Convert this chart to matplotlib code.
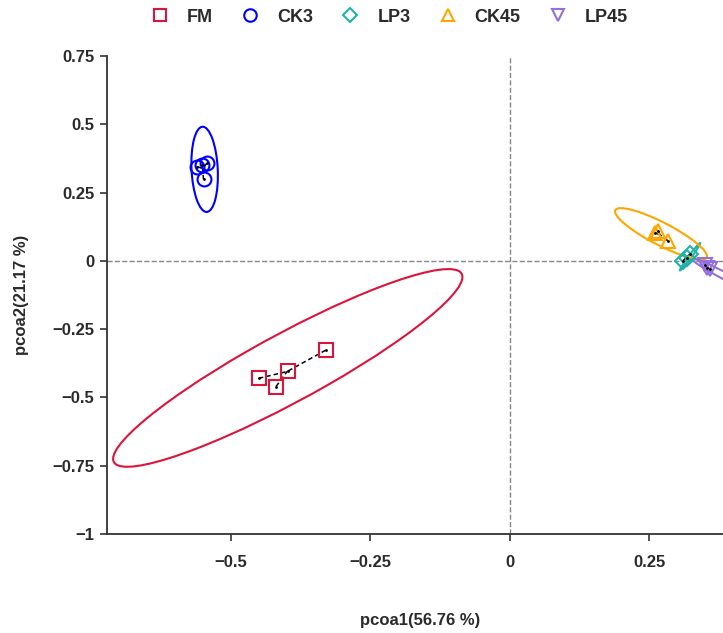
import matplotlib
matplotlib.use('Agg')
import matplotlib.pyplot as plt
from matplotlib.patches import Ellipse
from matplotlib.lines import Line2D
import numpy as np

# sample coordinates on the first two axes
groups = ['FM', 'CK3', 'LP3', 'CK45', 'LP45']
pc1 = {
    'FM':   [-0.450, -0.419, -0.398, -0.330],
    'CK3':  [-0.560, -0.551, -0.543, -0.549],
    'LP3':  [0.310, 0.317, 0.323],
    'CK45': [0.260, 0.265, 0.283],
    'LP45': [0.349, 0.353, 0.358],
}
pc2 = {
    'FM':   [-0.430, -0.460, -0.404, -0.327],
    'CK3':  [0.345, 0.352, 0.357, 0.298],
    'LP3':  [0.000, 0.011, 0.026],
    'CK45': [0.103, 0.110, 0.074],
    'LP45': [-0.015, -0.026, -0.029],
}
# confidence ellipses: centre x, centre y, width, height, angle (data units)
ell = {
    'FM':   (-0.398, -0.392, 0.938, 0.190, 49.5),
    'CK3':  (-0.547, 0.335, 0.312, 0.047, 91.3),
    'LP3':  (0.323, 0.015, 0.106, 0.006, 70.2),
    'CK45': (0.271, 0.099, 0.242, 0.063, -49.3),
    'LP45': (0.389, -0.059, 0.180, 0.020, -47.0),
}
xticks = [-0.5, -0.25, 0, 0.25]
xtlab = ['\u22120.5', '\u22120.25', '0', '0.25']
yticks = [0.75, 0.5, 0.25, 0, -0.25, -0.5, -0.75, -1]
ytlab = ['0.75', '0.5', '0.25', '0', '\u22120.25', '\u22120.5', '\u22120.75', '\u22121']

colors = {'FM': '#DC143C', 'CK3': '#0000FF', 'LP3': '#20B2AA',
          'CK45': '#FFA500', 'LP45': '#9370DB'}
marks = {'FM': 's', 'CK3': 'o', 'LP3': 'D', 'CK45': '^', 'LP45': 'v'}
msize = {'FM': 10, 'CK3': 10, 'LP3': 8, 'CK45': 10, 'LP45': 10}

plt.rcParams['font.family'] = ['Liberation Sans Narrow', 'Liberation Sans', 'DejaVu Sans']
plt.rcParams['font.weight'] = 'bold'

fig = plt.figure(figsize=(7.23, 6.33), dpi=100)
ax = fig.add_axes([107/723., 1-534/633., (733-107)/723., (534-56)/633.])

ax.axhline(0, color='#888888', ls='--', lw=1, zorder=1)
ax.axvline(0, color='#888888', ls='--', lw=1, zorder=1)

for g in groups:
    x = np.array(pc1[g]); y = np.array(pc2[g])
    c = colors[g]
    cx, cy = x.mean(), y.mean()
    for xi, yi in zip(x, y):
        ax.plot([xi, cx], [yi, cy], color='black', ls=(0, (3, 2)), lw=1.1, zorder=2)
    ax.plot(x, y, ls='none', marker='.', ms=2, color='black', zorder=4)
    ax.plot(x, y, ls='none', marker=marks[g], ms=msize[g], mfc='none',
            mec=c, mew=1.5, zorder=3)
    ex, ey, w, h, a = ell[g]
    ax.add_patch(Ellipse((ex, ey), w, h, angle=a, fill=False, ec=c, lw=1.5, zorder=2))

ax.set_xticks(xticks)
ax.set_xticklabels(xtlab)
ax.set_yticks(yticks)
ax.set_yticklabels(ytlab)
ax.set_xlim(-0.722, 0.40)
ax.set_ylim(-1, 0.75)
for s in ['top', 'right']:
    ax.spines[s].set_visible(False)
for s in ['left', 'bottom']:
    ax.spines[s].set_color('#333333')
    ax.spines[s].set_linewidth(1.3)
ax.tick_params(direction='out', length=5, width=1.2, color='#333333',
               labelsize=12, labelcolor='#2a2a2a', pad=4)
ax.tick_params(axis='x', pad=10)
for lab in ax.get_xticklabels() + ax.get_yticklabels():
    lab.set_fontweight('bold')

fig.text(420/723., 1-620/633., 'pcoa1(56.76 %)', ha='center', va='center',
         fontsize=12, fontweight='bold', color='#2a2a2a')
fig.text(22/723., 1-295/633., 'pcoa2(21.17 %)', ha='center', va='center',
         rotation=90, fontsize=12, fontweight='bold', color='#2a2a2a')

handles = [Line2D([], [], ls='none', marker=marks[g], ms=msize[g] - 1, mfc='none',
                  mec=colors[g], mew=1.5) for g in groups]
leg = fig.legend(handles, groups, loc='center', ncol=5, frameon=False,
                 bbox_to_anchor=(385/723., 1-17/633.), handletextpad=0.5,
                 columnspacing=1.05, prop={'size': 13, 'weight': 'bold'})
for t in leg.get_texts():
    t.set_color('#2a2a2a')

plt.savefig('out.png', dpi=100)
